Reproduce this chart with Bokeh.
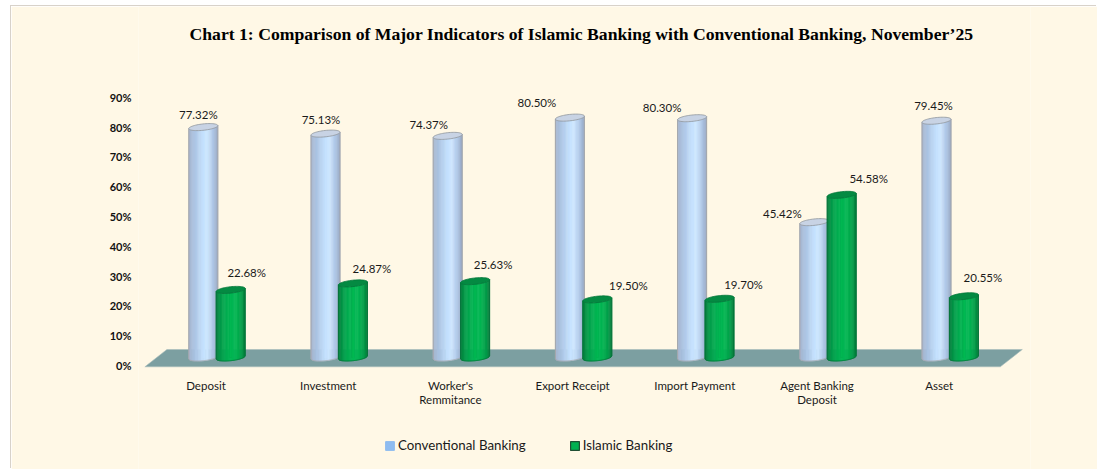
from bokeh.plotting import figure
from bokeh.models import Range1d, LinearAxis, FixedTicker, Legend, LegendItem, ColumnDataSource, Label
from bokeh.core.properties import value
from bokeh.embed import file_html
from bokeh.resources import INLINE
import numpy as np

categories = ["Deposit", "Investment", "Worker's\nRemmitance", "Export Receipt", "Import Payment", "Agent Banking\nDeposit", "Asset"]
conventional = [77.32, 75.13, 74.37, 80.50, 80.30, 45.42, 79.45]
islamic = [22.68, 24.87, 25.63, 19.50, 19.70, 54.58, 20.55]
y_ticks = [0, 10, 20, 30, 40, 50, 60, 70, 80, 90]
title_text = "Chart 1: Comparison of Major Indicators of Islamic Banking with Conventional Banking, November\u201925"

# label nudges in screen px
conv_dx = [-5, -4.5, -19, -33, -30, -32, -3]
conv_dy = [-12.6, -14, -11.4, -15, -10.7, -8.6, -15]
isl_dx = [16, 19, 18, 31, 24, 27, 19]
isl_dy = [-17, -15, -16.6, -14, -14, -16, -19]

PANEL = "#fff8e6"
FONT = "Lato"
X0, Y0 = 11, 6
WIDTH, HEIGHT = 1097 - X0, 469 - Y0
L, R, T, B = 138, 1030, Y0, 469
PX_X, PX_Y = 122.2, 2.98
CX0, BASE, AX0 = 205.5, 357.0, 365.0
AXIS_Y = 367

p = figure(width=WIDTH, height=HEIGHT, output_backend="svg", toolbar_location=None,
           x_range=Range1d((L - CX0) / PX_X, (R - CX0) / PX_X),
           y_range=Range1d((BASE - B) / PX_Y, (BASE - T) / PX_Y),
           min_border_left=L - X0, min_border_right=1097 - R,
           min_border_top=0, min_border_bottom=0,
           background_fill_color=PANEL, border_fill_color=PANEL, outline_line_color=None,
           styles={"margin-left": "11px", "margin-top": "6px", "box-shadow": "-1px -1px 0 #d8d2ca"})
p.grid.visible = False

p.add_layout(Label(x=(581 - CX0) / PX_X, y=(BASE - 33) / PX_Y, text=title_text,
                   text_font="Liberation Serif", text_font_size="17.65px", text_font_style="bold",
                   text_color="#000000", text_align="center", text_baseline="middle"))

# x axis
n = len(categories)
xa = p.xaxis[0]
xa.fixed_location = (BASE - AXIS_Y) / PX_Y
xa.ticker = FixedTicker(ticks=list(range(n)))
xa.major_label_overrides = {i: c for i, c in enumerate(categories)}
xa.axis_line_color = None
xa.major_tick_line_color = None
xa.minor_tick_line_color = None
xa.major_label_standoff = 5
xa.major_label_text_font = FONT
xa.major_label_text_font_size = "11.5px"
xa.major_label_text_line_height = 1.1
xa.major_label_text_color = "#1a1a1a"

# y axis: sits a little lower than the bars because of the 3-D floor
p.yaxis.visible = False
p.extra_y_ranges = {"ax": Range1d((AX0 - B) / PX_Y, (AX0 - T) / PX_Y)}
ya = LinearAxis(y_range_name="ax", ticker=FixedTicker(ticks=y_ticks),
                major_label_overrides={t: f"{t}%" for t in y_ticks},
                axis_line_color=None, major_tick_line_color=None, minor_tick_line_color=None,
                major_label_standoff=1, major_label_text_font=FONT,
                major_label_text_font_size="11px", major_label_text_font_style="bold",
                major_label_text_color="#111111")
p.add_layout(ya, "left")

# floor
fy0, fy1 = (BASE - 366.3) / PX_Y, (BASE - 349) / PX_Y
shift = 22 / PX_X
p.patch([-0.5, n - 0.5, n - 0.5 + shift, -0.5 + shift], [fy0, fy0, fy1, fy1],
        fill_color="#7c9fa1", line_color="#a9bdbc", line_width=0.6)

A = 14.5 / PX_X
TILT = 1.5 / PX_Y
MINOR = 3.2 / PX_Y
blue_off, green_off = -2.7 / PX_X, 24.7 / PX_X

# thin core bars (hidden by the cylinders) that also feed the legend swatches
r1 = p.vbar(x=[i + blue_off for i in range(n)], top=conventional, width=0.02,
            fill_color="#8fbcf0", line_color="#8fbcf0")
r2 = p.vbar(x=[i + green_off for i in range(n)], top=islamic, width=0.02,
            fill_color="#00b050", line_color="#1f4f33", line_width=1.2)


def lerp_hex(stops, t):
    xs = [s[0] for s in stops]
    rgb = [np.interp(t, xs, [int(s[1][i:i + 2], 16) for s in stops]) for i in (1, 3, 5)]
    return "#%02x%02x%02x" % tuple(int(round(c)) for c in rgb)


def cylinder(cx, v, stops, cap_fill, cap_line, edge):
    ts = np.linspace(-1, 1, 25)
    xs, ys, cols = [], [], []
    for a, b in zip(ts[:-1], ts[1:]):
        def low(t, level):
            return level + TILT * t - MINOR * np.sqrt(max(1 - t * t, 0))
        xs.append([cx + A * a, cx + A * b, cx + A * b, cx + A * a])
        ys.append([low(a, 0), low(b, 0), low(b, v), low(a, v)])
        cols.append(lerp_hex(stops, (a + b) / 2))
    p.patches(xs, ys, fill_color=cols, line_color=cols, line_width=0.6)
    th = np.linspace(0, 2 * np.pi, 60)
    tt = np.linspace(-1, 1, 40)
    sx = cx + A * tt
    p.line([cx - A, cx - A], [-TILT, v - TILT], line_color=edge, line_width=1)
    p.line([cx + A, cx + A], [TILT, v + TILT], line_color=edge, line_width=1)
    p.line(sx, TILT * tt - MINOR * np.sqrt(1 - tt * tt), line_color=edge, line_width=0.8)
    p.patch(cx + A * np.cos(th), v + TILT * np.cos(th) + MINOR * np.sin(th),
            fill_color=cap_fill, line_color=cap_line, line_width=0.8)


BLUE = [(-1, "#a8b6cf"), (-0.6, "#a9c3e3"), (0.0, "#c6e2ff"), (0.3, "#cde6ff"), (0.7, "#aec6e6"), (1, "#98a9c6")]
GREEN = [(-1, "#067d3c"), (-0.6, "#03a04c"), (0.0, "#00b853"), (0.4, "#00b551"), (0.8, "#039a48"), (1, "#067a3a")]

for i in range(n):
    cylinder(i + blue_off, conventional[i], BLUE, "#c8d3e4", "#8f959c", "#a4a6aa")
    cylinder(i + green_off, islamic[i], GREEN, "#048a42", "#04763a", "#04733a")

lab = ColumnDataSource(dict(
    x=[i + blue_off for i in range(n)] + [i + green_off for i in range(n)],
    y=conventional + islamic,
    t=[f"{v:.2f}%" for v in conventional + islamic],
    dx=conv_dx + isl_dx, dy=conv_dy + isl_dy))
p.text("x", "y", text="t", x_offset="dx", y_offset="dy", source=lab, text_align="center",
       text_baseline="middle", text_font=value(FONT), text_font_size="11.5px", text_color="#1a1a1a")

# legend
leg = Legend(items=[LegendItem(label="Conventional Banking", renderers=[r1]),
                    LegendItem(label="Islamic Banking", renderers=[r2])],
             orientation="horizontal", location=(384 - L, B - 453),
             background_fill_alpha=0, border_line_color=None, padding=0, margin=0,
             glyph_width=11, glyph_height=11, label_standoff=3, spacing=43,
             label_text_font=FONT, label_text_font_size="13.3px", label_text_color="#1a1a1a")
p.add_layout(leg, "center")

open("out.html", "w").write(file_html(p, INLINE))
